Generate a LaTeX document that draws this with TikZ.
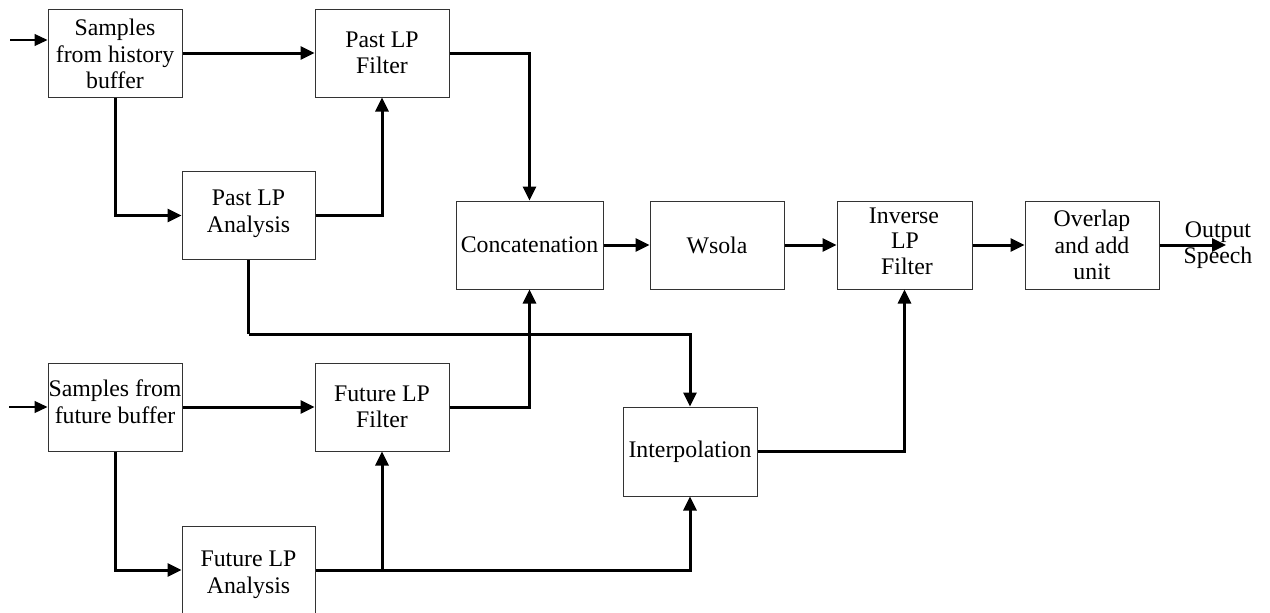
\documentclass[tikz,border=0pt]{standalone}
\usepackage{fontspec}
\setmainfont{Liberation Serif}
\usetikzlibrary{arrows.meta}
\begin{document}
\begin{tikzpicture}[x=1pt,y=-1pt,
  blk/.style={draw=black!80,line width=1pt,minimum width=134pt,minimum height=88pt,inner sep=0pt,align=center,font=\fontsize{23.8}{26.5}\selectfont},
  txt/.style={inner sep=0pt,align=center,font=\fontsize{23.8}{26.5}\selectfont},
  conn/.style={line width=3pt,-{Triangle[length=14pt,width=13pt]}},
  line/.style={line width=3pt},
  thin/.style={line width=1.2pt,-{Triangle[length=13pt,width=12pt]}}]
\useasboundingbox (0,0) rectangle (1270,613);
% boxes
\node[blk] (A) at (115,53) {};
\node[txt] (At) at (115,54) {Samples\\from history\\buffer};
\node[blk] (B) at (382,53) {Past LP\\Filter};
\node[blk,minimum width=133pt] (C) at (248.5,215.5) {};
\node[txt] (Ct) at (248.5,214) {Past LP\\Analysis};
\node[blk,minimum width=147pt] (K) at (529.5,245) {Concatenation};
\node[blk] (W) at (717,245) {Wsola};
\node[blk,minimum width=135pt] (V) at (904.5,245) {};
\node[txt] (Vt1) at (904,216) {Inverse};
\node[txt] (Vt2) at (905,241) {LP};
\node[txt] (Vt3) at (907,266) {Filter};
\node[blk] (O) at (1092,245) {Overlap\\and add\\unit};
\node[txt] (Out) at (1218,245) {Output\\Speech};
\node[blk] (FS) at (115,407) {};
\node[txt] (FSt) at (115,401.5) {Samples from\\future buffer};
\node[blk] (FF) at (382,407) {Future LP\\Filter};
\node[blk,minimum width=133pt] (FA) at (248.5,570) {};
\node[txt] (FAt) at (248.5,575) {Future LP\\Analysis};
\node[blk,minimum height=89pt] (I) at (690,451.5) {Interpolation};
% coordinates
\coordinate (in1) at (10,40);
\coordinate (in2) at (9,407);
\coordinate (j1) at (248.5,334);
\coordinate (out) at (1226,245);
% connectors
\draw[thin] (in1) -- (in1 -| A.west);
\draw[thin] (in2) -- (FS.west);
\draw[conn] (A.east) -- (B.west);
\draw[conn] (A.south) |- (C.west);
\draw[conn] (C.east) -| (B.south);
\draw[conn] (B.east) -| (K.north);
\draw[conn] (FF.east) -| (K.south);
\draw[line] (C.south) -- (j1);
\draw[conn] (j1) -| (I.north);
\draw[conn] (FS.east) -- (FF.west);
\draw[conn] (FS.south) |- (FA.west);
\draw[conn] (FA.east) -| (I.south);
\draw[conn] (FA.east -| FF.south) -- (FF.south);
\draw[conn] (I.east) -| (V.south);
\draw[conn] (K.east) -- (W.west);
\draw[conn] (W.east) -- (V.west);
\draw[conn] (V.east) -- (O.west);
\draw[conn] (O.east) -- (out);
\end{tikzpicture}
\end{document}
